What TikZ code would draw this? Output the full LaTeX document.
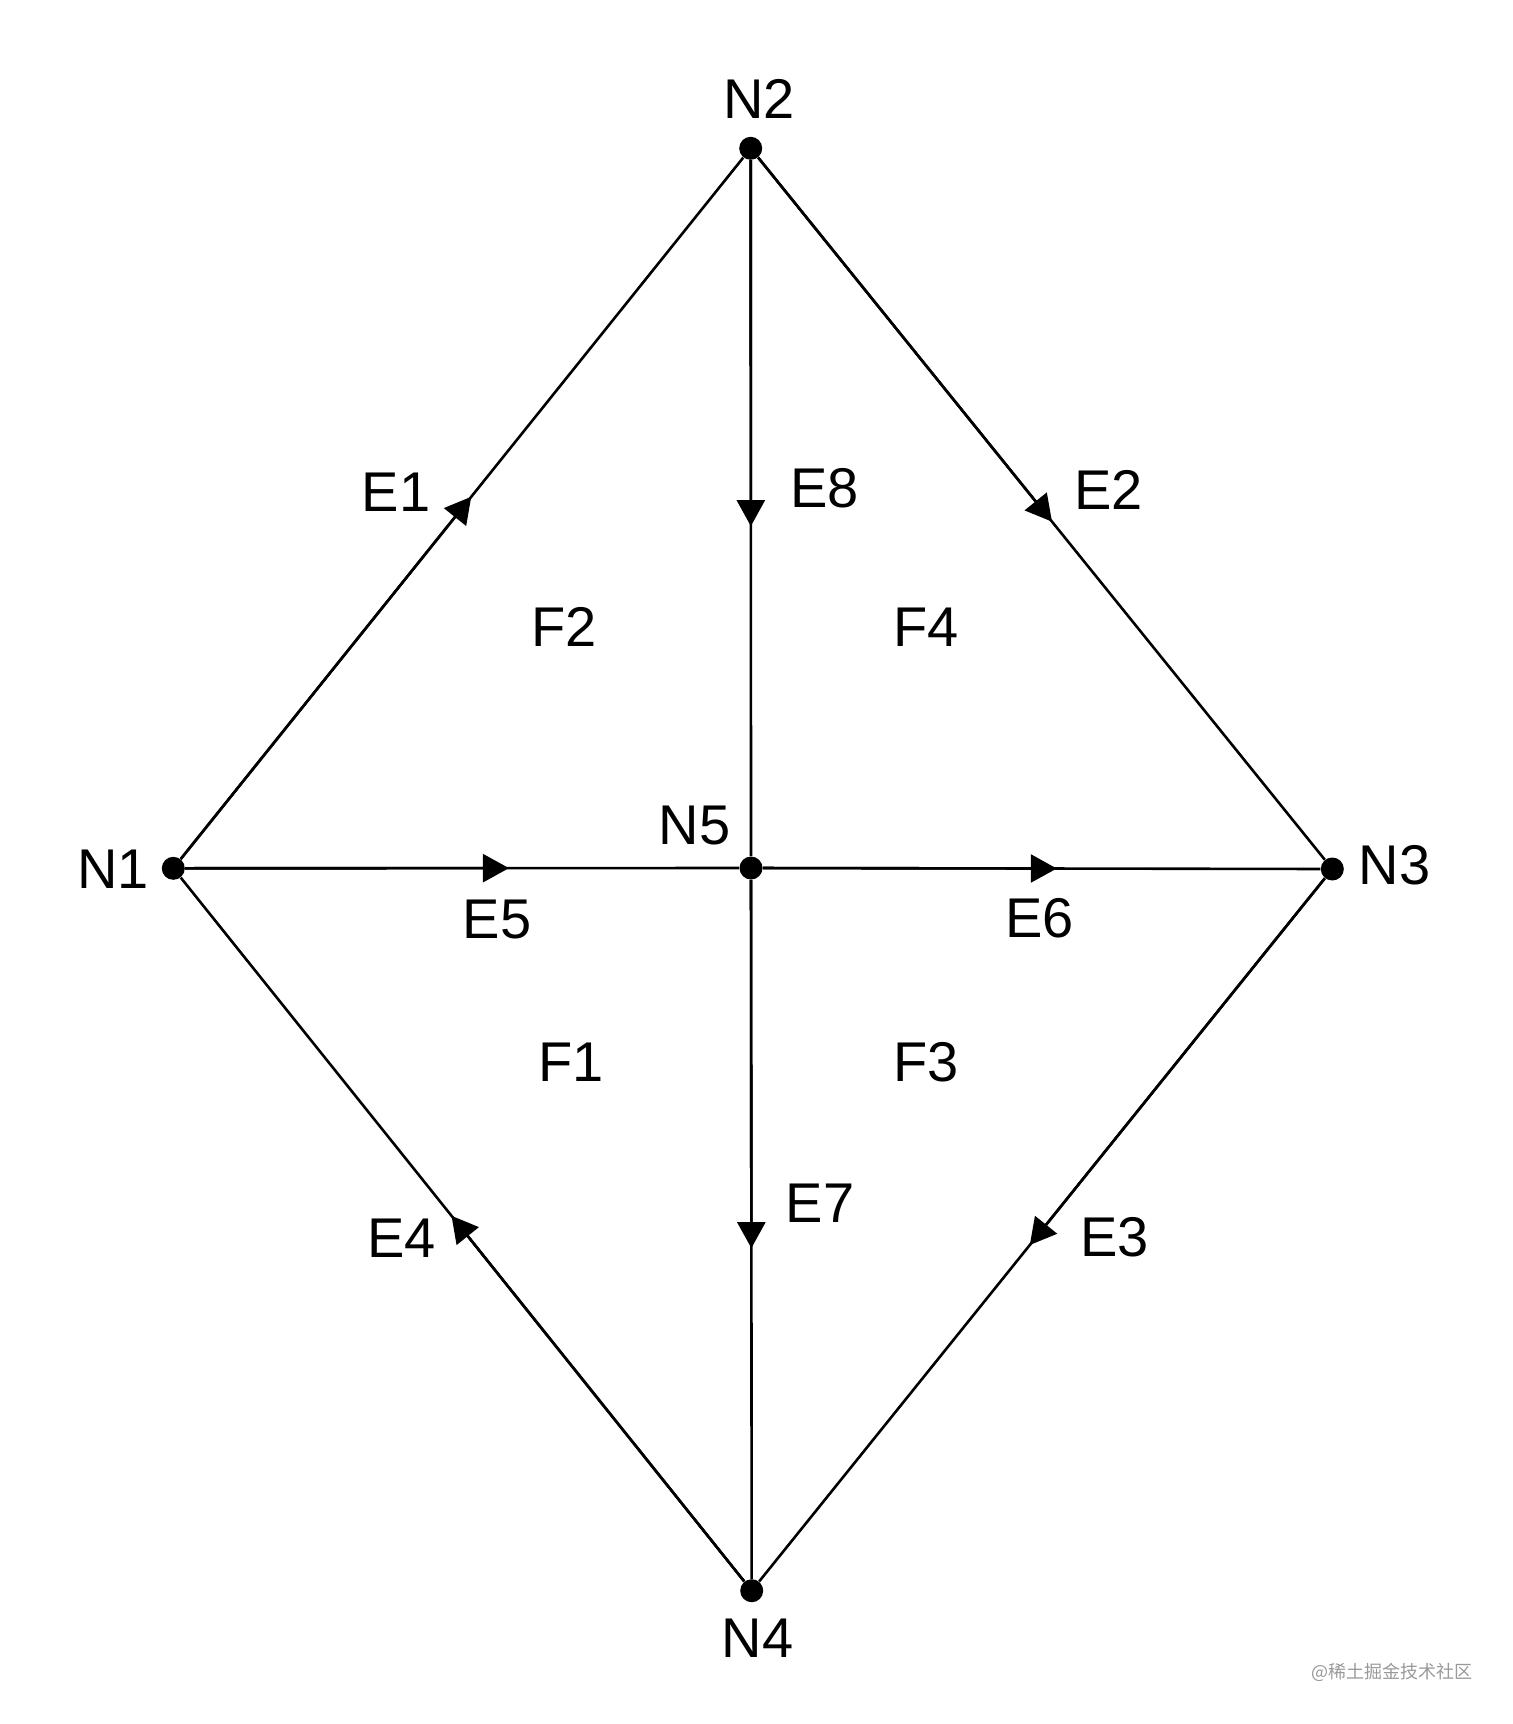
\documentclass[tikz,border=0pt]{standalone}
\usepackage{fontspec}
\setmainfont{Liberation Sans}
\newfontfamily\cjkfont{Noto Sans CJK SC}
\usetikzlibrary{arrows.meta,calc}
\begin{document}
\begin{tikzpicture}[x=0.5pt,y=-0.5pt,
  dot/.style={circle,fill=black,inner sep=0pt,minimum size=11.5pt},
  lbl/.style={inner sep=0pt,font=\fontsize{28}{30}\selectfont},
  edge/.style={line width=1.3pt},
  arr/.style={edge,-{Triangle[length=13pt,width=14pt]}}]
\useasboundingbox (0,0) rectangle (1512,1724);
% vertices
\node[dot] (N1) at (173.3,868.3) {};
\node[dot] (N2) at (750.7,148.3) {};
\node[dot] (N3) at (1332.3,869) {};
\node[dot] (N4) at (751.7,1590.7) {};
\node[dot] (N5) at (751,868) {};
% arrow tip positions
\coordinate (t1) at ($(N1)!0.516!(N2)$);
\coordinate (t2) at ($(N2)!0.518!(N3)$);
\coordinate (t3) at ($(N3)!0.521!(N4)$);
\coordinate (t4) at ($(N4)!0.519!(N1)$);
\coordinate (t5) at ($(N1)!0.581!(N5)$);
\coordinate (t6) at ($(N5)!0.526!(N3)$);
\coordinate (t7) at ($(N5)!0.526!(N4)$);
\coordinate (t8) at ($(N2)!0.525!(N5)$);
% edges
\draw[edge] (N1) -- (N2);
\draw[edge] (N2) -- (N3);
\draw[edge] (N3) -- (N4);
\draw[edge] (N4) -- (N1);
\draw[edge] (N1) -- (N5);
\draw[edge] (N5) -- (N3);
\draw[edge] (N5) -- (N4);
\draw[edge] (N2) -- (N5);
\draw[arr] (N1) -- (t1);
\draw[arr] (N2) -- (t2);
\draw[arr] (N3) -- (t3);
\draw[arr] (N4) -- (t4);
\draw[arr] (N1) -- (t5);
\draw[arr] (N5) -- (t6);
\draw[arr] (N5) -- (t7);
\draw[arr] (N2) -- (t8);
% vertex labels
\node[lbl] (lN1) at (113,869) {N1};
\node[lbl] (lN2) at (759,99) {N2};
\node[lbl] (lN3) at (1394.5,865) {N3};
\node[lbl] (lN4) at (757.5,1638) {N4};
\node[lbl] (lN5) at (694.5,825) {N5};
% edge labels
\node[lbl] (lE1) at (396,492) {E1};
\node[lbl] (lE2) at (1108.5,490) {E2};
\node[lbl] (lE3) at (1114.5,1237) {E3};
\node[lbl] (lE4) at (401.5,1238) {E4};
\node[lbl] (lE5) at (497,919) {E5};
\node[lbl] (lE6) at (1039.5,918) {E6};
\node[lbl] (lE7) at (820,1203) {E7};
\node[lbl] (lE8) at (824.5,488) {E8};
% face labels
\node[lbl] (lF1) at (571,1062) {F1};
\node[lbl] (lF2) at (564,627) {F2};
\node[lbl] (lF3) at (926,1062) {F3};
\node[lbl] (lF4) at (926,627) {F4};
% watermark
\node[inner sep=0pt,text=black!40,font=\cjkfont\fontsize{9}{10}\selectfont] (wm) at (1392,1672) {@稀土掘金技术社区};
\end{tikzpicture}
\end{document}
